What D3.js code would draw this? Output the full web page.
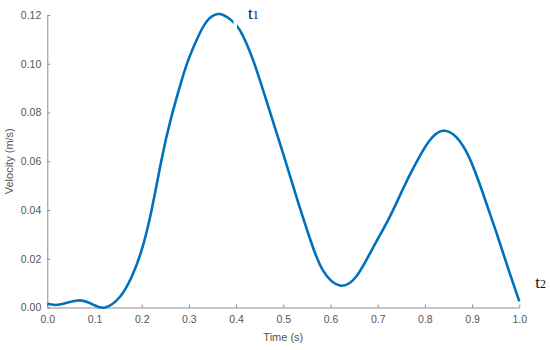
<!DOCTYPE html>
<html><head><meta charset="utf-8">
<script src="https://cdn.jsdelivr.net/npm/d3@7"></script>
<style>body{margin:0;background:#fff}</style>
</head><body>
<svg id="c" width="550" height="350"></svg>
<script>
const time = [0, 0.026, 0.065, 0.097, 0.1226, 0.154, 0.179, 0.2, 0.221, 0.242, 0.263, 0.285, 0.3, 0.323, 0.344, 0.366, 0.387, 0.408, 0.436, 0.464, 0.4995, 0.528, 0.556, 0.584, 0.62, 0.655, 0.69, 0.7245, 0.753, 0.781, 0.81, 0.838, 0.866, 0.894, 0.922, 0.951, 0.979, 1.0];
const velocity = [0.0015, 0.0012, 0.0029, 0.0012, 0.0, 0.0044, 0.0127, 0.0236, 0.040, 0.0606, 0.0783, 0.0934, 0.1022, 0.1125, 0.1187, 0.1204, 0.1183, 0.1138, 0.1015, 0.0850, 0.0632, 0.0453, 0.0285, 0.0152, 0.009, 0.0128, 0.0245, 0.0368, 0.0484, 0.0592, 0.0685, 0.0725, 0.0700, 0.0615, 0.0474, 0.031, 0.0145, 0.0025];
const xTicks = [0, 0.1, 0.2, 0.3, 0.4, 0.5, 0.6, 0.7, 0.8, 0.9, 1.0];
const yTicks = [0, 0.02, 0.04, 0.06, 0.08, 0.10, 0.12];
const gapRange = [0.3945, 0.402];
const annotations = [{label:"t", sub:"1", t:0.425, v:0.1185}, {label:"t", sub:"2", t:1.034, v:0.0082}];

const svg = d3.select("#c");
const x = d3.scaleLinear().domain([0, 1]).range([47.3, 519.3]);
const y = d3.scaleLinear().domain([0, 0.12]).range([307.5, 15]);
const axisColor = "#8c8c8c", textColor = "#555";

const xAxis = svg.append("g").attr("transform", `translate(0,${y(0)})`)
  .call(d3.axisBottom(x).tickValues(xTicks).tickFormat(d3.format(".1f")).tickSizeInner(-3).tickSizeOuter(0).tickPadding(8));
const yAxis = svg.append("g").attr("transform", `translate(${x(0)},0)`)
  .call(d3.axisLeft(y).tickValues(yTicks).tickFormat(d3.format(".2f")).tickSizeInner(-3).tickSizeOuter(0).tickPadding(6));
[xAxis, yAxis].forEach(g => {
  g.select(".domain").attr("stroke", axisColor).attr("stroke-width", 1);
  g.selectAll(".tick line").attr("stroke", axisColor);
  g.selectAll("text").attr("fill", textColor).attr("font-family", "Liberation Sans, Arial, sans-serif").attr("font-size", 10.5);
});

svg.append("text").attr("x", (x(0)+x(1))/2).attr("y", 341).attr("text-anchor", "middle")
  .attr("fill", textColor).attr("font-family", "Liberation Sans, Arial, sans-serif").attr("font-size", 11).text("Time (s)");
svg.append("text").attr("transform", `translate(13,${(y(0)+y(0.12))/2}) rotate(-90)`).attr("text-anchor", "middle")
  .attr("fill", textColor).attr("font-family", "Liberation Sans, Arial, sans-serif").attr("font-size", 11).text("Velocity (m/s)");

const defs = svg.append("defs");
const cp = defs.append("clipPath").attr("id", "gap");
cp.append("rect").attr("x", 0).attr("y", 0).attr("width", x(gapRange[0])).attr("height", 350);
cp.append("rect").attr("x", x(gapRange[1])).attr("y", 0).attr("width", 550 - x(gapRange[1])).attr("height", 350);

const data = time.map((t, i) => [t, velocity[i]]);
const line = d3.line().x(d => x(d[0])).y(d => y(d[1])).curve(d3.curveNatural);
svg.append("path").datum(data).attr("d", line).attr("fill", "none")
  .attr("stroke", "#0072BD").attr("stroke-width", 2.6).attr("clip-path", "url(#gap)");

annotations.forEach(a => {
  const t = svg.append("text").attr("x", x(a.t)).attr("y", y(a.v))
    .attr("font-family", "Liberation Serif, Times New Roman, serif").attr("font-size", 17).attr("fill", "#111");
  t.append("tspan").text(a.label);
  t.append("tspan").attr("font-size", 12).text(a.sub);
});
</script>
</body></html>
